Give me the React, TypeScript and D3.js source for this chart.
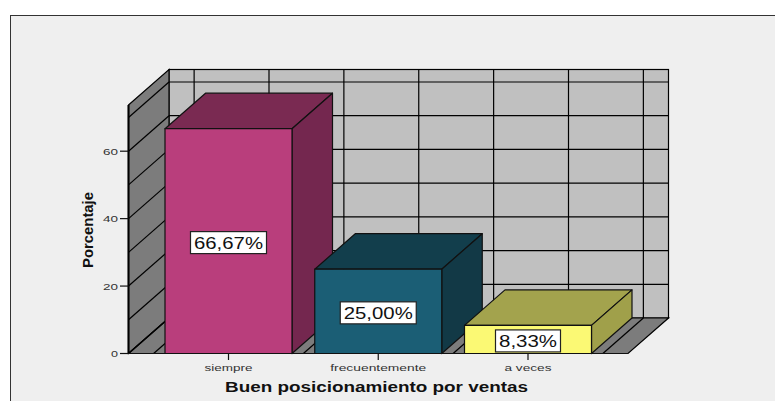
import React from "react";
import * as d3 from "d3";

const categories = ["siempre", "frecuentemente", "a veces"];
const values = [66.67, 25.0, 8.33];
const valueLabels = ["66,67%", "25,00%", "8,33%"];
const frontColors = ["#b93e7c", "#1b5e75", "#fbf974"];
const topColors = ["#7a2a52", "#123e4c", "#a3a34d"];
const sideColors = ["#74274f", "#123946", "#a0a04a"];
const axisTicks = [0, 20, 40, 60];
const gridValues = [10, 20, 30, 40, 50, 60, 70];
const labelLengths = [69, 69, 58];
const tickLabelLengths = [48, 96, 47];

const FONT = "'Liberation Sans', Arial, sans-serif";
const W = 775, H = 401;
const dx = 40.5, dy = -35.5;
const left = 128.5, right = 628, bottom = 353.5;
const yMax = 73.7;

const y = d3.scaleLinear().domain([0, yMax]).range([bottom, 105]);
const step = 149.75;
const x = d3.scaleBand<string>().domain(categories).range([left + 100 - step / 2, left + 100 + step * 2.5]).paddingInner(1 - 127 / step).paddingOuter((1 - 127 / step) / 2);
const center = (c: string) => (x(c) as number) + x.bandwidth() / 2;
// half-step stations on the floor (category centres and the midpoints between them)
const stations = d3.range(-0.5, 3, 0.5).map((k) => center(categories[0]) + k * step);

const poly = (pts: [number, number][]) => d3.line()(pts) + "Z";

export default function App() {
  const yTop = y(yMax);
  const stroke = "#000";
  const gw = 1.2;
  return (
    <svg width={W} height={H} style={{ position: "fixed", left: 0, top: 0, display: "block" }}>
      <rect width={W} height={H} fill="#ffffff" />
      <rect x={10.5} y={15.5} width={W + 20} height={H + 20} fill="#efefef" stroke="#333" strokeWidth={1} />

      {/* back wall */}
      <rect x={left + dx} y={yTop + dy} width={right - left} height={bottom - yTop} fill="#c0c0c0" stroke={stroke} strokeWidth={gw} />
      {/* left wall */}
      <path d={poly([[left, yTop], [left + dx, yTop + dy], [left + dx, bottom + dy], [left, bottom]])} fill="#7c7c7c" stroke={stroke} strokeWidth={gw} />
      {/* floor */}
      <path d={poly([[left, bottom], [right, bottom], [right + dx, bottom + dy], [left + dx, bottom + dy]])} fill="#7c7c7c" stroke={stroke} strokeWidth={gw} />

      {gridValues.map((v) => (
        <g key={v} stroke={stroke} strokeWidth={gw}>
          <line x1={left} x2={left + dx} y1={y(v)} y2={y(v) + dy} />
          <line x1={left + dx} x2={right + dx} y1={y(v) + dy} y2={y(v) + dy} />
        </g>
      ))}
      {stations.map((s) => (
        <g key={s} stroke={stroke} strokeWidth={gw}>
          <line x1={s + dx} x2={s + dx} y1={yTop + dy} y2={bottom + dy} />
          <line x1={s} x2={s + dx} y1={bottom} y2={bottom + dy} />
        </g>
      ))}
      <line x1={left} x2={left + dx} y1={bottom} y2={bottom + dy} stroke="#000" strokeWidth={1.5} />
      <line x1={left} x2={left} y1={yTop} y2={bottom} stroke="#000" strokeWidth={2} />

      {/* y axis */}
      {axisTicks.map((t) => (
        <g key={t}>
          <line x1={120} x2={left} y1={y(t)} y2={y(t)} stroke="#111" strokeWidth={1.2} />
          <text x={118} y={y(t) + 3.5} textAnchor="end" fontFamily={FONT} fontSize={9.5} fill="#333" textLength={t === 0 ? 7 : 15} lengthAdjust="spacingAndGlyphs">{t}</text>
        </g>
      ))}
      <line x1={left} x2={right} y1={bottom} y2={bottom} stroke="#111" strokeWidth={1.2} />

      {/* bars */}
      {categories.map((c, i) => {
        const x0 = x(c) as number;
        const x1 = x0 + x.bandwidth();
        const yv = y(values[i]);
        return (
          <g key={c} stroke="#111" strokeWidth={1.2} strokeLinejoin="round">
            <path d={poly([[x0, yv], [x0 + dx, yv + dy], [x1 + dx, yv + dy], [x1, yv]])} fill={topColors[i]} />
            <path d={poly([[x1, yv], [x1 + dx, yv + dy], [x1 + dx, bottom + dy], [x1, bottom]])} fill={sideColors[i]} />
            <rect x={x0} y={yv} width={x.bandwidth()} height={bottom - yv} fill={frontColors[i]} />
          </g>
        );
      })}

      {/* value labels */}
      {categories.map((c, i) => {
        const cx = center(c);
        const cy = i === 2 ? y(values[i]) + 15.5 : (y(values[i]) + bottom) / 2 + 1.5;
        const w = labelLengths[i] + 7;
        return (
          <g key={c}>
            <rect x={cx - w / 2} y={cy - 11} width={w} height={22} fill="#fff" stroke="#222" strokeWidth={1.2} />
            <text x={cx - labelLengths[i] / 2} y={cy + 6} fontFamily={FONT} fontSize={17} fill="#111" textLength={labelLengths[i]} lengthAdjust="spacingAndGlyphs">{valueLabels[i]}</text>
          </g>
        );
      })}

      {/* x axis ticks */}
      {categories.map((c, i) => (
        <g key={c}>
          <line x1={center(c)} x2={center(c)} y1={bottom} y2={360} stroke="#111" strokeWidth={1.2} />
          <text x={center(c) - tickLabelLengths[i] / 2} y={370.5} fontFamily={FONT} fontSize={9.5} fill="#333" textLength={tickLabelLengths[i]} lengthAdjust="spacingAndGlyphs">{c}</text>
        </g>
      ))}

      <text x={225} y={392} fontFamily={FONT} fontWeight="bold" fontSize={14} fill="#111" textLength={303} lengthAdjust="spacingAndGlyphs">Buen posicionamiento por ventas</text>
      <text transform="translate(93,268) rotate(-90)" fontFamily={FONT} fontWeight="bold" fontSize={15} fill="#111" textLength={76} lengthAdjust="spacingAndGlyphs">Porcentaje</text>
    </svg>
  );
}
